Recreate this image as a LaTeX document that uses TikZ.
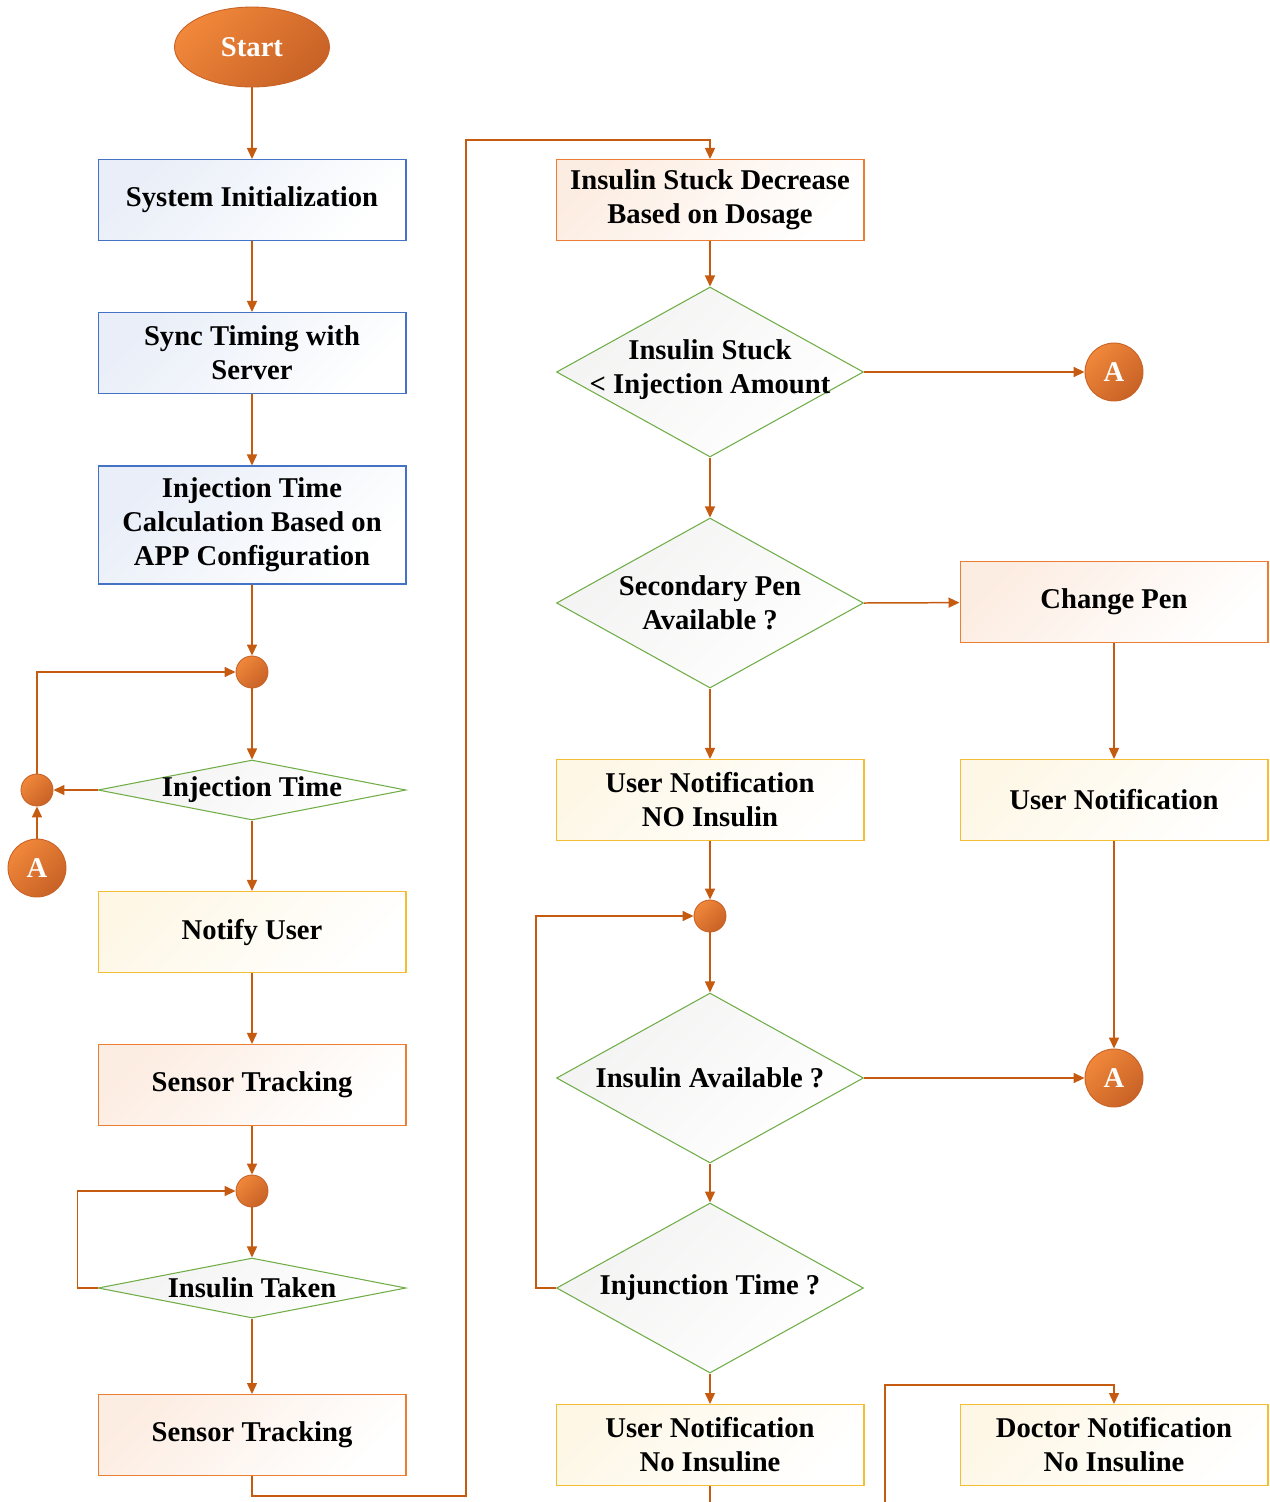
\documentclass[tikz,border=0pt]{standalone}
\usepackage{fontspec}
\setmainfont{Liberation Serif}
\usepackage{tikz}
\usetikzlibrary{shapes,arrows.meta,positioning,calc}
\definecolor{linkorange}{RGB}{197,90,17}
\definecolor{boxblue}{RGB}{68,114,196}
\definecolor{boxyellow}{RGB}{245,190,50}
\definecolor{boxorange}{RGB}{237,125,49}
\definecolor{decgreen}{RGB}{112,173,71}
\definecolor{dotlight}{RGB}{240,135,58}
\definecolor{dotdark}{RGB}{200,98,38}

\begin{document}
\begin{tikzpicture}[x=0.02cm, y=-0.02cm, font=\bfseries\fontsize{16.3}{19.4}\selectfont,
    link/.style={draw=linkorange, line width=0.85pt, -{Triangle[length=2.2mm,width=2mm]}},
    plain/.style={draw=linkorange, line width=0.85pt},
    box/.style={rectangle, line width=0.6pt, minimum width=6.16cm, minimum height=1.62cm, align=center, inner sep=2pt},
    bluebox/.style={box, draw=boxblue, top color=boxblue!12, bottom color=white, shading angle=45},
    yellowbox/.style={box, draw=boxyellow, top color=boxyellow!12, bottom color=white, shading angle=45},
    orangebox/.style={box, draw=boxorange, top color=boxorange!14, bottom color=white, shading angle=45},
    decision/.style={diamond, draw=decgreen, line width=0.6pt, inner sep=0pt, top color=decgreen!10!gray!10, bottom color=white, shading angle=45},
    qtext/.style={align=center, inner sep=0pt},
    dot/.style={circle, draw=dotdark, line width=0.5pt, minimum size=0.64cm, inner sep=0pt, top color=dotlight, bottom color=dotdark, shading angle=45},
    conn/.style={dot, minimum size=1.16cm, text=white}]
    \useasboundingbox (0,0) rectangle (1270,1502);

    % left column
    \node[ellipse, draw=dotdark, line width=0.5pt, minimum width=3.1cm, minimum height=1.6cm, top color=dotlight, bottom color=dotdark, shading angle=45, text=white] (start) at (252,47) {Start};
    \node[bluebox] (init) at (252,200) {System Initialization};
    \node[bluebox] (sync) at (252,353) {Sync Timing with\\Server};
    \node[bluebox, minimum height=2.36cm] (calc) at (252,525) {Injection Time\\Calculation Based on\\APP Configuration};
    \node[dot] (j1) at (252,672) {};
    \node[decision, minimum width=6.16cm, minimum height=1.2cm] (qinj) at (252,790) {};
    \node[qtext] (qinjtxt) at (qinj) {Injection Time};
    \node[dot] (j2) at (37,790) {};
    \node[conn] (a1) at (37,868) {A};
    \node[yellowbox] (notify) at (252,932) {Notify User};
    \node[orangebox] (track1) at (252,1085) {Sensor Tracking};
    \node[dot] (j3) at (252,1191) {};
    \node[decision, minimum width=6.16cm, minimum height=1.2cm] (qtaken) at (252,1288) {};
    \node[qtext] (qtakentxt) at (qtaken) {Insulin Taken};
    \node[orangebox] (track2) at (252,1435) {Sensor Tracking};

    % middle column
    \node[orangebox] (stuck) at (710,200) {Insulin Stuck Decrease\\Based on Dosage};
    \node[decision, minimum width=6.14cm, minimum height=3.4cm] (qstuck) at (710,372) {};
    \node[qtext] (qstucktxt) at (710,370) {Insulin Stuck\\{<} Injection Amount};
    \node[decision, minimum width=6.14cm, minimum height=3.4cm] (qpen) at (710,603) {};
    \node[qtext] (qpentxt) at (qpen) {Secondary Pen\\Available ?};
    \node[yellowbox] (nopen) at (710,800) {User Notification\\NO Insulin};
    \node[dot] (j4) at (710,916) {};
    \node[decision, minimum width=6.14cm, minimum height=3.4cm] (qavail) at (710,1078) {};
    \node[qtext] (qavailtxt) at (qavail) {Insulin Available ?};
    \node[decision, minimum width=6.14cm, minimum height=3.4cm] (qtime) at (710,1288) {};
    \node[qtext] (qtimetxt) at (qtime) {Injunction Time ?};
    \node[yellowbox] (usernote) at (710,1445) {User Notification\\No Insuline};

    % right column
    \node[conn] (a2) at (1114,372) {A};
    \node[orangebox] (change) at (1114,602) {Change Pen};
    \node[yellowbox] (penote) at (1114,800) {User Notification};
    \node[conn] (a3) at (1114,1078) {A};
    \node[yellowbox] (docnote) at (1114,1445) {Doctor Notification\\No Insuline};

    \coordinate (out) at (710,1502);
    \coordinate (in) at (885,1502);

    \draw[link] (start) -- (init);
    \draw[link] (init) -- (sync);
    \draw[link] (sync) -- (calc);
    \draw[link] (calc) -- (j1);
    \draw[link] (j1) -- (qinj);
    \draw[link] (qinj.west) -- (j2);
    \draw[link] (a1) -- (j2);
    \draw[link] (j2) |- (j1);
    \draw[link] (qinj) -- (notify);
    \draw[link] (notify) -- (track1);
    \draw[link] (track1) -- (j3);
    \draw[link] (j3) -- (qtaken);
    \draw[link] (qtaken.west) -- ++(-20,0) |- (j3);
    \draw[link] (qtaken) -- (track2);
    \draw[link] (track2.south) -- ++(0,20) -| (466,140) -| (stuck.north);

    \draw[link] (stuck) -- (qstuck);
    \draw[link] (qstuck.east) -- (a2);
    \draw[link] (qstuck) -- (qpen);
    \draw[link] (qpen.east) -- (change);
    \draw[link] (qpen) -- (nopen);
    \draw[link] (change) -- (penote);
    \draw[link] (nopen) -- (j4);
    \draw[link] (j4) -- (qavail);
    \draw[link] (qavail.east) -- (a3);
    \draw[link] (penote) -- (a3);
    \draw[link] (qavail) -- (qtime);
    \draw[link] (qtime.west) -- ++(-20,0) |- (j4);
    \draw[link] (qtime) -- (usernote);
    \draw[plain] (usernote) -- (out);
    \draw[link] (in) |- (1114,1385) -- (docnote);
\end{tikzpicture}
\end{document}
